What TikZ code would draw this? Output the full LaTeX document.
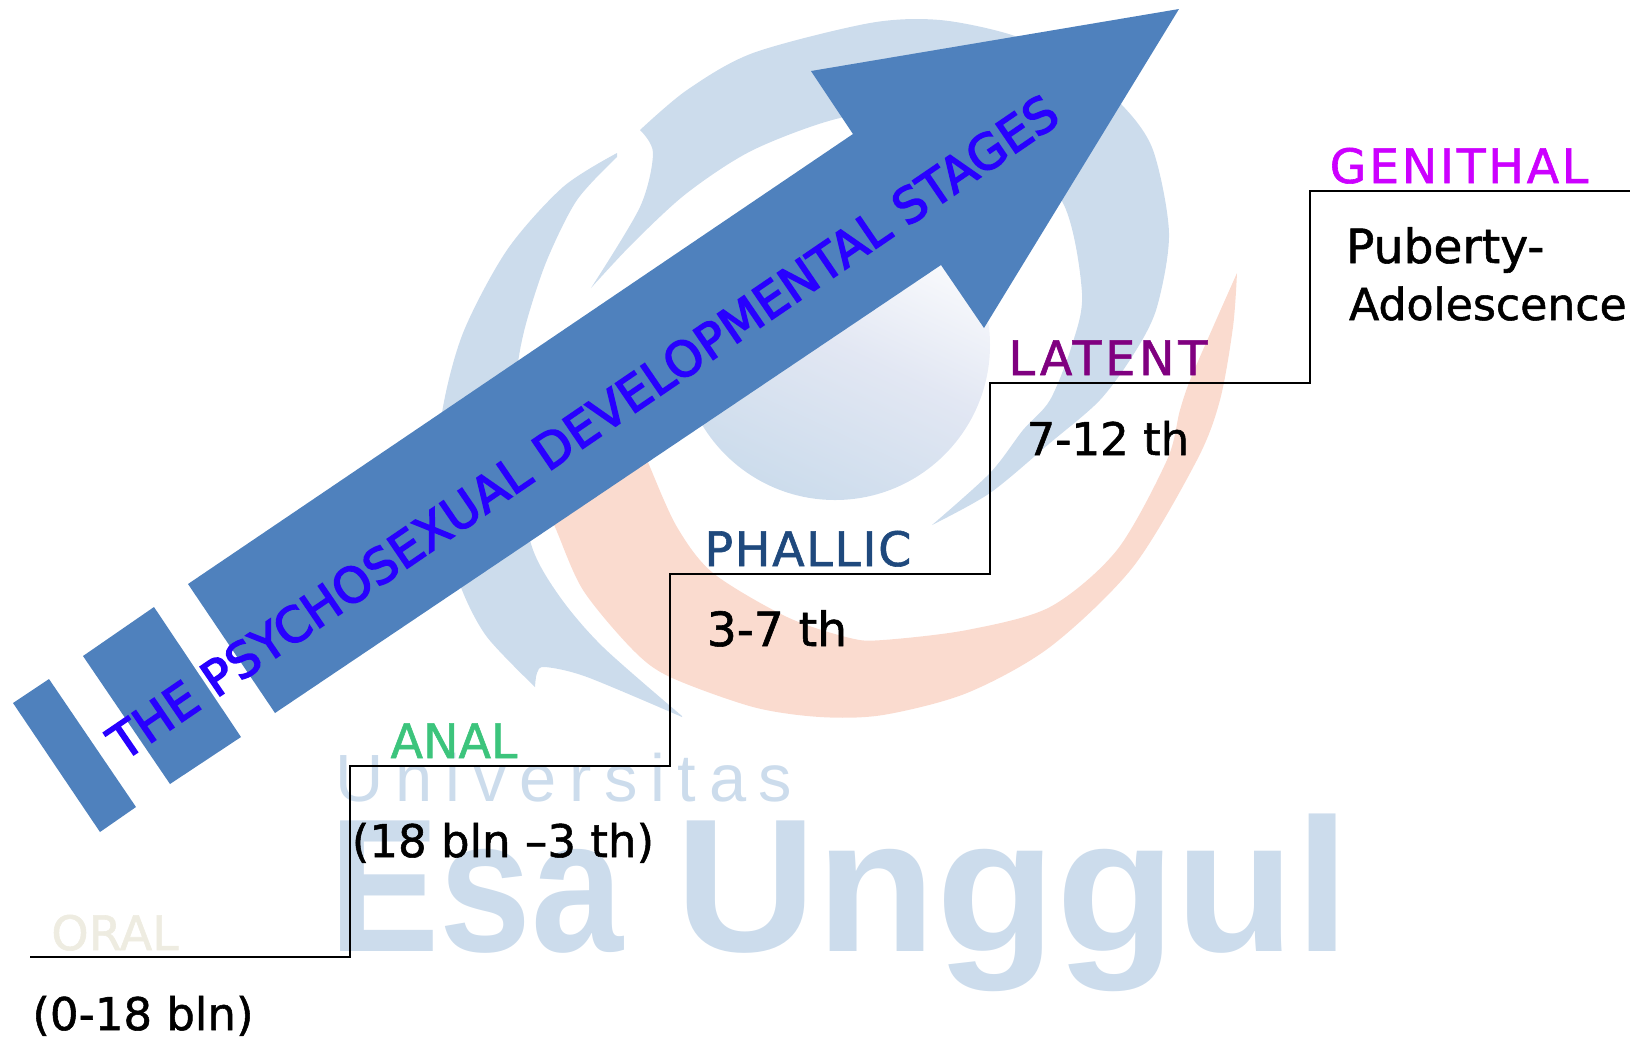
\documentclass[tikz,border=0pt]{standalone}
\usepackage{fontspec}
\setmainfont[FakeBold=1.2]{DejaVu Sans}
\newfontfamily\titlefont[FakeBold=3]{DejaVu Sans}
\newfontfamily\wmbold{Liberation Sans}
\newfontfamily\wmspaced[LetterSpace=19]{Liberation Sans}

\definecolor{wmblue}{HTML}{CCDCEC}
\definecolor{wmorange}{HTML}{FADBCF}
\definecolor{wmlight}{HTML}{E2E7F3}
\definecolor{arrowblue}{HTML}{4F81BD}
\definecolor{titleblue}{HTML}{2800FF}
\definecolor{oralcol}{HTML}{EEECE1}
\definecolor{analcol}{HTML}{3CC47C}
\definecolor{phalliccol}{HTML}{1F497D}
\definecolor{latentcol}{HTML}{800080}
\definecolor{genitalcol}{HTML}{CC00FF}

\tikzset{
    stagelabel/.style={anchor=base, font=\fontsize{13.5}{16}\selectfont, inner sep=0pt},
    agelabel/.style={anchor=base, font=\fontsize{12.8}{16}\selectfont, text=black, inner sep=0pt},
    agewide/.style={font=\fontsize{13.4}{16}\selectfont}
}

\begin{document}
\begin{tikzpicture}[
    x=0.01cm,
    y=-0.01cm,
    line width=0.6pt
]

\useasboundingbox (0,0) rectangle (1635,1041);

% Watermark: sphere
\shade[shading=axis, top color=white, bottom color=wmblue, middle color=wmlight, shading angle=-25]
    (835,345) circle (155);

% Watermark: orange crescent
\fill[wmorange] plot[smooth] coordinates {(1237,273) (1233,327) (1220,400) (1197,460) (1133,567) (1050,647) (967,693) (883,715) (820,717) (753,707) (670,677) (633,650) (583,590) (555,527) (530,470)}
    -- plot[smooth] coordinates {(640,440) (650,467) (677,527) (713,573) (787,617) (850,638) (883,640) (967,630) (1050,607) (1117,550) (1167,460) (1180,410) (1193,373) (1237,273)} -- cycle;

% Watermark: big upper swirl
\fill[wmblue] plot[smooth] coordinates {(640,130) (687,90) (753,53) (870,23) (940,20) (1012,35) (1070,62) (1122,105) (1153,150) (1169,233) (1157,307) (1135,352) (1100,400) (1050,443) (990,493) (932,525)}
    -- plot[smooth] coordinates {(932,525) (990,473) (1023,430) (1050,400) (1072,345) (1082,293) (1063,203) (1000,135) (920,112) (840,118) (753,150) (687,193) (633,243) (591,288)}
    -- plot[smooth] coordinates {(591,288) (640,207) (653,153) (640,130)} -- cycle;

% Watermark: left swirl
\fill[wmblue] plot[smooth] coordinates {(617,153) (563,187) (507,250) (463,333) (442,413) (441,480) (449,542) (462,590) (487,637) (535,687)}
    -- plot[smooth] coordinates {(535,687) (537,673) (545,667) (587,677) (682,717)}
    -- plot[smooth] coordinates {(682,716) (603,647) (560,597) (532,547) (519,472) (516,410) (518,363) (527,320) (547,260) (577,200) (617,157)} -- cycle;

% Watermark: text
\node[text=wmblue, anchor=base west, inner sep=0pt, font=\wmspaced\fontsize{19}{22}\selectfont] (wmsmall) at (334,801) {Universitas};
\node[text=wmblue, anchor=base west, inner sep=0pt, font=\wmbold\bfseries\fontsize{54}{60}\selectfont] (wmbig) at (328,951) {\scalebox{0.87}[1]{Esa} \scalebox{1.03}[1]{Unggul}};

% Stairs
\coordinate (s0) at (30,957);
\coordinate (s1) at (350,957);
\coordinate (s2) at (350,766);
\coordinate (s3) at (670,766);
\coordinate (s4) at (670,574);
\coordinate (s5) at (990,574);
\coordinate (s6) at (990,383);
\coordinate (s7) at (1310,383);
\coordinate (s8) at (1310,191);
\coordinate (s9) at (1630,191);

\draw (s0) -- (s1) -- (s2) -- (s3) -- (s4) -- (s5) -- (s6) -- (s7) -- (s8) -- (s9);

% Big arrow
\fill[arrowblue] (188,584) -- (853,134) -- (811,71) -- (1179,9) -- (984,328) -- (941,265) -- (275,713) -- cycle;
\fill[arrowblue] (154,607) -- (83,656) -- (170,784) -- (241,737) -- cycle;
\fill[arrowblue] (49,679) -- (13,703) -- (100,832) -- (136,807) -- cycle;

\node[rotate=34.3, text=titleblue, inner sep=0pt, font=\titlefont\fontsize{13.8}{16}\selectfont] (title) at (583,427) {THE PSYCHOSEXUAL DEVELOPMENTAL STAGES};

% Stage names
\node[stagelabel, text=oralcol] (oral) at (115,950) {ORAL};
\node[stagelabel, text=analcol] (anal) at (454,758) {ANAL};
\node[stagelabel, text=phalliccol] (phallic) at (808,566) {\addfontfeature{LetterSpace=3.5}PHALLIC};
\node[stagelabel, text=latentcol] (latent) at (1108,375) {\addfontfeature{LetterSpace=8}LATENT};
\node[stagelabel, text=genitalcol] (genital) at (1459,183) {\addfontfeature{LetterSpace=5.6}GENITHAL};

% Ages
\node[agelabel] (ageoral) at (143,1030) {(0-18 bln)};
\node[agelabel] (ageanal) at (503,857) {(18 bln –3 th)};
\node[agelabel, agewide] (agephallic) at (777,646) {3-7 th};
\node[agelabel] (agelatent) at (1108,455) {7-12 th};
\node[agelabel, agewide, anchor=base west] (agegenital1) at (1345,263) {Puberty-};
\node[agelabel, font=\fontsize{12.55}{16}\selectfont, anchor=base west] (agegenital2) at (1348,320) {Adolescence};

\end{tikzpicture}
\end{document}
